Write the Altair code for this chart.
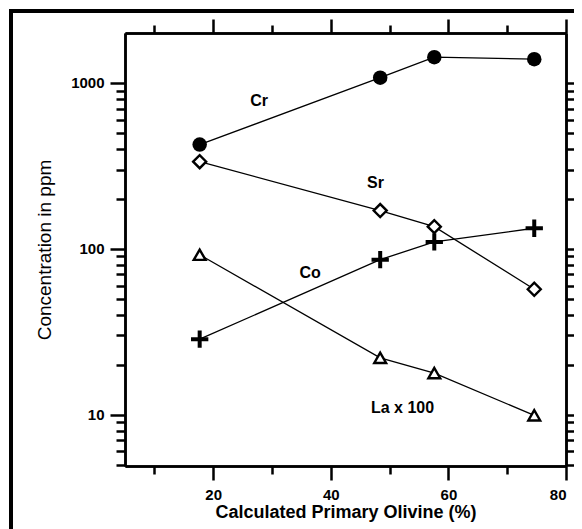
import altair as alt
import pandas as pd

# ---- data ----
olivine = [17.7, 48.4, 57.6, 74.6]
cr = [425, 1075, 1430, 1390]
sr = [335, 170, 136, 57]
co = [28.5, 86, 110, 133]
la_x100 = [92, 22, 17.8, 9.9]

label_text = ["Cr", "Sr", "Co", "La x 100"]
label_x = [27.8, 47.6, 36.5, 52.2]
label_y = [780, 250, 71, 10.9]

x_major = [20, 40, 60, 80]
x_minor = [10, 30, 50, 70]
y_major = [10, 100, 1000]
y_minor = [5, 6, 7, 8, 9, 20, 30, 40, 50, 60, 70, 80, 90,
           200, 300, 400, 500, 600, 700, 800, 900]

X_DOMAIN = [5, 80]
Y_DOMAIN = [4.9, 2000]

rows = []
for name, vals in [("Cr", cr), ("Sr", sr), ("Co", co), ("La", la_x100)]:
    for xv, yv in zip(olivine, vals):
        rows.append({"series": name, "x": xv, "y": yv})
df = pd.DataFrame(rows)
labels = pd.DataFrame({"t": label_text, "x": label_x, "y": label_y})

xs = alt.Scale(domain=X_DOMAIN, nice=False, zero=False)
ys = alt.Scale(type="log", domain=Y_DOMAIN, nice=False)

FONT = "Liberation Sans"

def xenc(axis):
    return alt.X("x:Q", scale=xs, axis=axis)

def yenc(axis):
    return alt.Y("y:Q", scale=ys, axis=axis)

common_axis = dict(domainColor="black", domainWidth=2.5, tickColor="black",
                   tickWidth=2.5, grid=False, labelFont=FONT, labelFontWeight="bold",
                   labelFontSize=15, labelColor="black", titleFont=FONT,
                   titleColor="black")

ax_bottom_major = alt.Axis(values=x_major, tickSize=14, labelPadding=7, format="d",
                           title="Calculated Primary Olivine (%)", titleFontSize=18,
                           titleFontWeight="bold", titlePadding=1, orient="bottom",
                           **common_axis)
ax_bottom_minor = alt.Axis(values=x_minor, tickSize=8, labels=False, title=None,
                           orient="bottom", **common_axis)
ax_top_major = alt.Axis(values=x_major, tickSize=14, labels=False, title=None,
                        orient="top", **common_axis)
ax_top_minor = alt.Axis(values=x_minor, tickSize=8, labels=False, title=None,
                        orient="top", **common_axis)

ax_left_major = alt.Axis(values=y_major, tickSize=15, labelPadding=6, format="d",
                         title="Concentration in ppm", titleFontSize=19,
                         titleFontWeight="normal", titlePadding=16, orient="left",
                         **common_axis)
ax_left_minor = alt.Axis(values=y_minor, tickSize=9, labels=False, title=None,
                         orient="left", **common_axis)
ax_right_major = alt.Axis(values=y_major, tickSize=15, labels=False, title=None,
                          orient="right", **common_axis)
ax_right_minor = alt.Axis(values=y_minor, tickSize=9, labels=False, title=None,
                          orient="right", **common_axis)

base = alt.Chart(df)

axis_layers = [
    base.mark_point(opacity=0).encode(x=xenc(ax_bottom_major), y=yenc(ax_left_major)),
    base.mark_point(opacity=0).encode(x=xenc(ax_bottom_minor), y=yenc(ax_left_minor)),
    base.mark_point(opacity=0).encode(x=xenc(ax_top_major), y=yenc(ax_right_major)),
    base.mark_point(opacity=0).encode(x=xenc(ax_top_minor), y=yenc(ax_right_minor)),
]

lines = base.mark_line(color="black", strokeWidth=1.3).encode(
    x=xenc(None), y=yenc(None), detail="series:N")

cr_pts = base.transform_filter(alt.datum.series == "Cr").mark_point(
    shape="circle", filled=True, color="black", size=210, opacity=1).encode(
    x=xenc(None), y=yenc(None))
sr_pts = base.transform_filter(alt.datum.series == "Sr").mark_point(
    shape="diamond", filled=True, fill="white", stroke="black", strokeWidth=2.4,
    size=170, opacity=1).encode(x=xenc(None), y=yenc(None))
co_pts = base.transform_filter(alt.datum.series == "Co").mark_point(
    shape="M-1,0L1,0M0,-1L0,1", filled=False, stroke="black", strokeWidth=4,
    size=300, opacity=1).encode(x=xenc(None), y=yenc(None))
la_pts = base.transform_filter(alt.datum.series == "La").mark_point(
    shape="triangle-up", filled=True, fill="white", stroke="black", strokeWidth=2.4,
    size=140, opacity=1).encode(x=xenc(None), y=yenc(None))

text = alt.Chart(labels).mark_text(font=FONT, fontWeight="bold", fontSize=16,
                                   color="black").encode(
    x=alt.X("x:Q", scale=xs, axis=None), y=alt.Y("y:Q", scale=ys, axis=None),
    text="t:N")

# outer frame of the figure (decoration)
frame_left = alt.Chart(labels).mark_rule(color="black", strokeWidth=4).encode(
    x=alt.value(-114), y=alt.value(-22), y2=alt.value(510))
frame_top = alt.Chart(labels).mark_rule(color="black", strokeWidth=4).encode(
    x=alt.value(-116), x2=alt.value(460), y=alt.value(-22))
frame_right = alt.Chart(labels).mark_rule(color="black", strokeWidth=4).encode(
    x=alt.value(455), y=alt.value(-22), y2=alt.value(510))

chart = alt.layer(
    *axis_layers, lines, cr_pts, sr_pts, co_pts, la_pts, text,
    frame_left, frame_top, frame_right
).resolve_axis(x="independent", y="independent").properties(
    width=441, height=433,
    padding={"left": 117, "top": 25, "right": 8, "bottom": 63},
    autosize=alt.AutoSizeParams(type="none"),
).configure_view(stroke=None).configure(background="white")

chart.save("out.html", embed_options={"renderer": "svg", "actions": False})
